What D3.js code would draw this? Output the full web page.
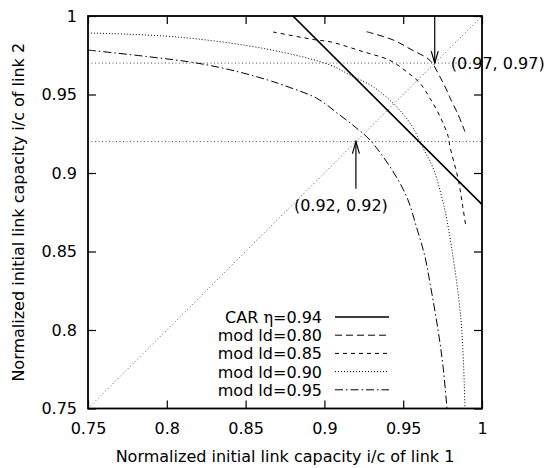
<!DOCTYPE html>
<html><head><meta charset="utf-8">
<script src="https://cdn.jsdelivr.net/npm/d3@7"></script>
<style>
body{margin:0;background:#fff;}
text{font-family:"DejaVu Sans",Arial,Helvetica,sans-serif;}
</style></head>
<body><svg id="c" width="548" height="468"></svg>
<script>
// ---- data ----
const xTicks = [0.75, 0.8, 0.85, 0.9, 0.95, 1];
const yTicks = [0.75, 0.8, 0.85, 0.9, 0.95, 1];
const xTickLabels = ["0.75", "0.8", "0.85", "0.9", "0.95", "1"];
const yTickLabels = ["0.75", "0.8", "0.85", "0.9", "0.95", "1"];
const seriesNames = ["CAR η=0.94", "mod ld=0.80", "mod ld=0.85", "mod ld=0.90", "mod ld=0.95"];
const carLine = [[0.88, 1.0], [1.0, 0.88]];
const mod080 = [[0.9268,0.9900],[0.9437,0.9847],[0.9562,0.9780],[0.9670,0.9717],[0.9734,0.9611],[0.9784,0.9510],[0.9797,0.9478],[0.9845,0.9380],[0.9892,0.9263]];
const mod085 = [[0.8674,0.9898],[0.8951,0.9847],[0.9036,0.9836],[0.9245,0.9773],[0.9416,0.9717],[0.9522,0.9645],[0.9607,0.9571],[0.9670,0.9476],[0.9734,0.9359],[0.9786,0.9231],[0.9797,0.9167],[0.9850,0.8955],[0.9878,0.8785],[0.9898,0.8658]];
const mod090 = [[0.7500,0.9892],[0.8071,0.9866],[0.8642,0.9788],[0.9036,0.9688],[0.9162,0.9624],[0.9308,0.9550],[0.9440,0.9440],[0.9550,0.9308],[0.9624,0.9162],[0.9688,0.9036],[0.9744,0.8849],[0.9788,0.8642],[0.9866,0.8071],[0.9892,0.7500]];
const mod095 = [[0.7500,0.9783],[0.7881,0.9741],[0.8198,0.9699],[0.8452,0.9645],[0.8642,0.9592],[0.8737,0.9560],[0.8951,0.9476],[0.9098,0.9369],[0.9205,0.9285],[0.9289,0.9210],[0.9416,0.9040],[0.9522,0.8849],[0.9586,0.8650],[0.9638,0.8467],[0.9670,0.8299],[0.9721,0.8000],[0.9753,0.7766],[0.9778,0.7500]];
const diagonal = [[0.75,0.75],[1.0,1.0]];
const hGuides = [0.97, 0.92];
const arrows = [{x:0.97, from:1.0, to:0.97}, {x:0.92, from:0.89, to:0.92}];
const annotations = [{x:0.97, y:0.97, text:"(0.97, 0.97)"}, {x:0.92, y:0.92, text:"(0.92, 0.92)"}];

// ---- layout ----
const svg = d3.select("#c");
const L = 88, R = 482, T = 16, B = 408.5;
const FS = "16px";
const x = d3.scaleLinear().domain([0.75, 1]).range([L, R]);
const y = d3.scaleLinear().domain([0.75, 1]).range([B, T]);
const line = d3.line().x(d => x(d[0])).y(d => y(d[1]));
const smooth = d3.line().x(d => x(d[0])).y(d => y(d[1])).curve(d3.curveCatmullRom.alpha(0.5));

svg.append("clipPath").attr("id","clip").append("rect")
  .attr("x",L).attr("y",T).attr("width",R-L).attr("height",B-T);

const styles = [
  {data: carLine, dash: null, w: 1.7, color:"#000", gen: line},
  {data: mod080, dash: "7,4", w: 1, color:"#000", gen: smooth},
  {data: mod085, dash: "4,4", w: 1, color:"#000", gen: smooth},
  {data: mod090, dash: "1,2", w: 1, color:"#000", gen: smooth},
  {data: mod095, dash: "8,3,1.5,3", w: 1, color:"#000", gen: smooth}
];

const g = svg.append("g").attr("clip-path","url(#clip)");
// guides
g.append("path").attr("d", line(diagonal)).attr("fill","none")
  .attr("stroke","#555").attr("stroke-width",1).attr("stroke-dasharray","1,2.5");
hGuides.forEach(v => {
  g.append("path").attr("d", line([[0.75,v],[1,v]])).attr("fill","none")
    .attr("stroke","#555").attr("stroke-width",1).attr("stroke-dasharray","1,2.5");
});
styles.forEach(s => {
  g.append("path").attr("d", s.gen(s.data)).attr("fill","none")
    .attr("stroke", s.color).attr("stroke-width", s.w)
    .attr("stroke-dasharray", s.dash);
});

// axes (ticks inward on all sides)
const tl = 8;
const axB = d3.axisBottom(x).tickValues(xTicks).tickSize(-tl).tickPadding(14)
  .tickFormat((d,i)=>xTickLabels[i]);
const axT = d3.axisTop(x).tickValues(xTicks).tickSize(-tl).tickFormat("");
const axL = d3.axisLeft(y).tickValues(yTicks).tickSize(-tl).tickPadding(11)
  .tickFormat((d,i)=>yTickLabels[i]);
const axR = d3.axisRight(y).tickValues(yTicks).tickSize(-tl).tickFormat("");
function styleAx(sel){
  sel.select(".domain").remove();
  sel.selectAll("line").attr("stroke","#000").attr("stroke-width",1.2);
  sel.selectAll("text").attr("fill","#000").style("font-size",FS)
     .style("font-family","'DejaVu Sans',Arial,sans-serif");
}
svg.append("g").attr("transform",`translate(0,${B})`).call(axB).call(styleAx);
svg.append("g").attr("transform",`translate(0,${T})`).call(axT).call(styleAx);
svg.append("g").attr("transform",`translate(${L},0)`).call(axL).call(styleAx);
svg.append("g").attr("transform",`translate(${R},0)`).call(axR).call(styleAx);
svg.append("rect").attr("x",L).attr("y",T).attr("width",R-L).attr("height",B-T)
  .attr("fill","none").attr("stroke","#000").attr("stroke-width",1.8);

// arrows
arrows.forEach(a => {
  const x0 = x(a.x), y0 = y(a.from), y1 = y(a.to);
  const dir = y1 > y0 ? 1 : -1;
  svg.append("line").attr("x1",x0).attr("x2",x0).attr("y1",y0).attr("y2",y1)
    .attr("stroke","#000").attr("stroke-width",1.2);
  svg.append("path").attr("d",`M${x0-3.5},${y1-dir*12}L${x0},${y1}L${x0+3.5},${y1-dir*12}`)
    .attr("fill","none").attr("stroke","#000").attr("stroke-width",1.2);
});
// annotations
svg.append("text").attr("x", x(annotations[0].x)+16).attr("y", y(annotations[0].y)+6)
  .text(annotations[0].text).style("font-size",FS);
svg.append("text").attr("x", x(annotations[1].x)-62).attr("y", y(annotations[1].y)+69)
  .text(annotations[1].text).style("font-size",FS);

// legend
const lgX = 322, lgY0 = 317, lgDy = 18.2;
styles.forEach((s,i) => {
  const yy = lgY0 + i*lgDy;
  const t = svg.append("text").attr("x", lgX).attr("y", yy+6).attr("text-anchor","end")
    .style("font-size",FS);
  if (i === 0) {
    t.append("tspan").text("CAR ");
    t.append("tspan").text("η").style("font-family","'DejaVu Serif','Liberation Serif',serif");
    t.append("tspan").text("=0.94");
  } else {
    t.text(seriesNames[i]);
  }
  svg.append("line").attr("x1",335).attr("x2",389).attr("y1",yy).attr("y2",yy)
    .attr("stroke",s.color).attr("stroke-width",s.w).attr("stroke-dasharray",s.dash);
});

// axis titles
svg.append("text").attr("x",(L+R)/2).attr("y",462).attr("text-anchor","middle")
  .style("font-size",FS).text("Normalized initial link capacity i/c of link 1");
svg.append("text").attr("transform",`translate(24,${(T+B)/2}) rotate(-90)`)
  .attr("text-anchor","middle").style("font-size",FS)
  .text("Normalized initial link capacity i/c of link 2");
</script></body></html>
